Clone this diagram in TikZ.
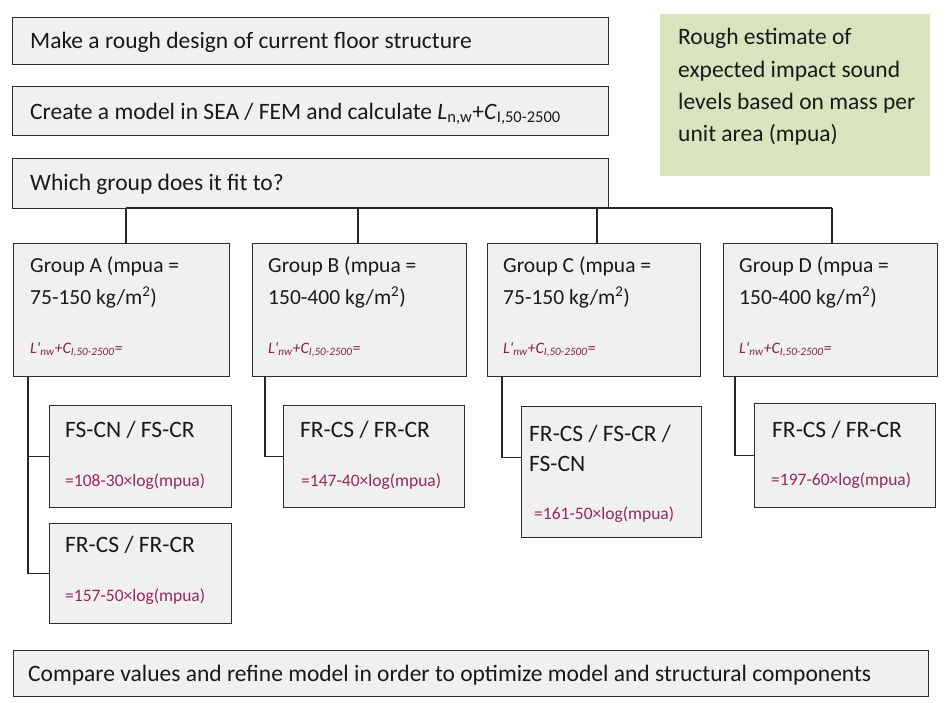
\documentclass[tikz,border=0pt]{standalone}
\usepackage{fontspec}
\setmainfont{Carlito}
\definecolor{boxfill}{RGB}{240,240,240}
\definecolor{boxline}{RGB}{45,45,45}
\definecolor{greenfill}{RGB}{216,228,190}
\definecolor{formula}{RGB}{150,40,90}
\tikzset{
  pbox/.style={draw=boxline, line width=1.3pt, fill=boxfill, anchor=north west, inner sep=0pt, minimum width=#1},
  gbox/.style={fill=greenfill, anchor=north west, inner sep=0pt},
  txt/.style={anchor=base west, inner sep=0pt, font=\fontsize{23.5}{28}\selectfont, text=black!90},
  gtxt/.style={anchor=base west, inner sep=0pt, font=\fontsize{21.5}{26}\selectfont, text=black!90},
  ftxt/.style={anchor=base west, inner sep=0pt, font=\fontsize{17.5}{20}\selectfont, text=formula},
  ltxt/.style={anchor=base west, inner sep=0pt, font=\fontsize{16}{19}\selectfont\itshape, text=formula!85!black},
  conn/.style={line width=1.2pt, draw=black!85}
}
\newcommand{\Lsum}{L\textquotesingle\textsubscript{nw}+C\textsubscript{I,50-2500}=}
\begin{document}
\begin{tikzpicture}[x=1pt,y=-1pt]
\useasboundingbox (0,0) rectangle (948,702);
% top boxes
\node[pbox=596pt, minimum height=47pt] (b1) at (12,17) {};
\node[pbox=596pt, minimum height=49pt] (b2) at (12,86) {};
\node[pbox=596pt, minimum height=50pt] (b3) at (12,158) {};
\node[gbox, minimum width=270pt, minimum height=162pt] (est) at (660,14) {};
% group boxes
\node[pbox=216pt, minimum height=133pt] (gA) at (13,243) {};
\node[pbox=214pt, minimum height=133pt] (gB) at (252,243) {};
\node[pbox=213pt, minimum height=133pt] (gC) at (487,243) {};
\node[pbox=214pt, minimum height=133pt] (gD) at (723,243) {};
% sub boxes
\node[pbox=182pt, minimum height=102pt] (sA1) at (49,405) {};
\node[pbox=182pt, minimum height=100pt] (sA2) at (49,523) {};
\node[pbox=181pt, minimum height=102pt] (sB) at (283,405) {};
\node[pbox=180pt, minimum height=131pt] (sC) at (521,406) {};
\node[pbox=181pt, minimum height=104pt] (sD) at (754,403) {};
% bottom box
\node[pbox=915pt, minimum height=46pt] (bot) at (13,650) {};
% texts
\node[txt] (t1) at (30,48) {Make a rough design of current floor structure};
\node[txt] (t2) at (30,119) {Create a model in SEA / FEM and calculate \textit{L}\textsubscript{n,w}+\textit{C}\textsubscript{I,50-2500}};
\node[txt] (t3) at (30,190) {Which group does it fit to?};
\node[txt] (e1) at (678,44) {Rough estimate of};
\node[txt] (e2) at (678,77) {expected impact sound};
\node[txt] (e3) at (678,109) {levels based on mass per};
\node[txt] (e4) at (678,141) {unit area (mpua)};
\node[gtxt] (ga1) at (30,272) {Group A (mpua =};
\node[gtxt] (ga2) at (30,304) {75-150 kg/m\textsuperscript{2})};
\node[ltxt] (ga3) at (30,353) {\Lsum};
\node[gtxt] (gb1) at (268,272) {Group B (mpua =};
\node[gtxt] (gb2) at (268,304) {150-400 kg/m\textsuperscript{2})};
\node[ltxt] (gb3) at (268,353) {\Lsum};
\node[gtxt] (gc1) at (503,272) {Group C (mpua =};
\node[gtxt] (gc2) at (503,304) {75-150 kg/m\textsuperscript{2})};
\node[ltxt] (gc3) at (503,353) {\Lsum};
\node[gtxt] (gd1) at (739,272) {Group D (mpua =};
\node[gtxt] (gd2) at (739,304) {150-400 kg/m\textsuperscript{2})};
\node[ltxt] (gd3) at (739,353) {\Lsum};
\node[txt] (sa1a) at (65,437) {FS-CN / FS-CR};
\node[ftxt] (sa1b) at (65,486) {=108-30×log(mpua)};
\node[txt] (sa2a) at (65,552) {FR-CS / FR-CR};
\node[ftxt] (sa2b) at (65,601) {=157-50×log(mpua)};
\node[txt] (sba) at (300,437) {FR-CS / FR-CR};
\node[ftxt] (sbb) at (301,486) {=147-40×log(mpua)};
\node[txt] (sca) at (529,441) {FR-CS / FS-CR /};
\node[txt] (scb) at (529,471) {FS-CN};
\node[ftxt] (scc) at (534,519) {=161-50×log(mpua)};
\node[txt] (sda) at (772,437) {FR-CS / FR-CR};
\node[ftxt] (sdb) at (771,485) {=197-60×log(mpua)};
\node[txt] (tb) at (28,681) {Compare values and refine model in order to optimize model and structural components};
% connectors
\coordinate (busA) at (126,208);
\coordinate (busB) at (358,208);
\coordinate (busC) at (597,208);
\coordinate (busD) at (832,208);
\draw[conn] (busA) -- (busD);
\draw[conn] (busA) -- (busA |- gA.north);
\draw[conn] (busB) -- (busB |- gB.north);
\draw[conn] (busC) -- (busC |- gC.north);
\draw[conn] (busD) -- (busD |- gD.north);
\draw[conn] ([xshift=15pt]gA.south west) |- (sA1.west);
\draw[conn] ([xshift=15pt]gA.south west) |- (sA2.west);
\draw[conn] ([xshift=13pt]gB.south west) |- (sB.west);
\draw[conn] ([xshift=15pt]gC.south west) |- ([yshift=15pt]sC.west);
\draw[conn] ([xshift=12pt]gD.south west) |- (sD.west);
\end{tikzpicture}
\end{document}
